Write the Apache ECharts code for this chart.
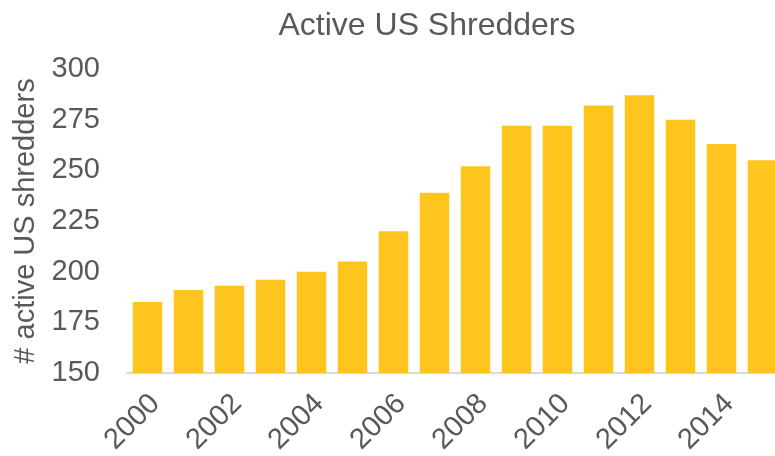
<!DOCTYPE html>
<html>
<head>
<meta charset="utf-8">
<script src="https://cdn.jsdelivr.net/npm/echarts@6/dist/echarts.min.js"></script>
<style>html,body{margin:0;padding:0;background:#fff;}#c{width:775px;height:456px;}</style>
</head>
<body>
<div id="c"></div>
<script>
const years = ['2000','2001','2002','2003','2004','2005','2006','2007','2008','2009','2010','2011','2012','2013','2014','2015'];
const shredders = [185, 191, 193, 196, 200, 205, 220, 239, 252, 272, 272, 282, 287, 275, 263, 255];
const yTicks = { min: 150, max: 300, interval: 25 };

const chart = echarts.init(document.getElementById('c'), null, { renderer: 'canvas' });
const font = 'Arial, "Liberation Sans", sans-serif';
chart.setOption({
  animation: false,
  title: {
    text: 'Active US Shredders',
    left: 422, top: 5, textAlign: 'center',
    textStyle: { fontFamily: font, fontSize: 32, fontWeight: 'normal', color: '#595959' }
  },
  grid: { left: 127, top: 69, width: 656, bottom: 83, containLabel: false, outerBoundsMode: 'none' },
  xAxis: {
    type: 'category',
    data: years,
    axisLine: { show: true, lineStyle: { color: '#D9D9D9', width: 2 } },
    axisTick: { show: false },
    axisLabel: { interval: 1, rotate: 45, margin: 34, padding: [0, -11, 0, 0], fontFamily: font, fontSize: 29, color: '#595959' }
  },
  yAxis: {
    type: 'value',
    min: yTicks.min, max: yTicks.max, interval: yTicks.interval,
    name: '# active US shredders',
    nameLocation: 'middle',
    nameGap: 86,
    nameTextStyle: { fontFamily: font, fontSize: 29, color: '#595959' },
    axisLine: { show: false },
    axisTick: { show: false },
    splitLine: { show: false },
    axisLabel: { margin: 27, fontFamily: font, fontSize: 29, color: '#595959' }
  },
  series: [{
    type: 'bar',
    data: shredders,
    barCategoryGap: '28%',
    itemStyle: { color: '#FEC51E' }
  }]
});
</script>
</body>
</html>
